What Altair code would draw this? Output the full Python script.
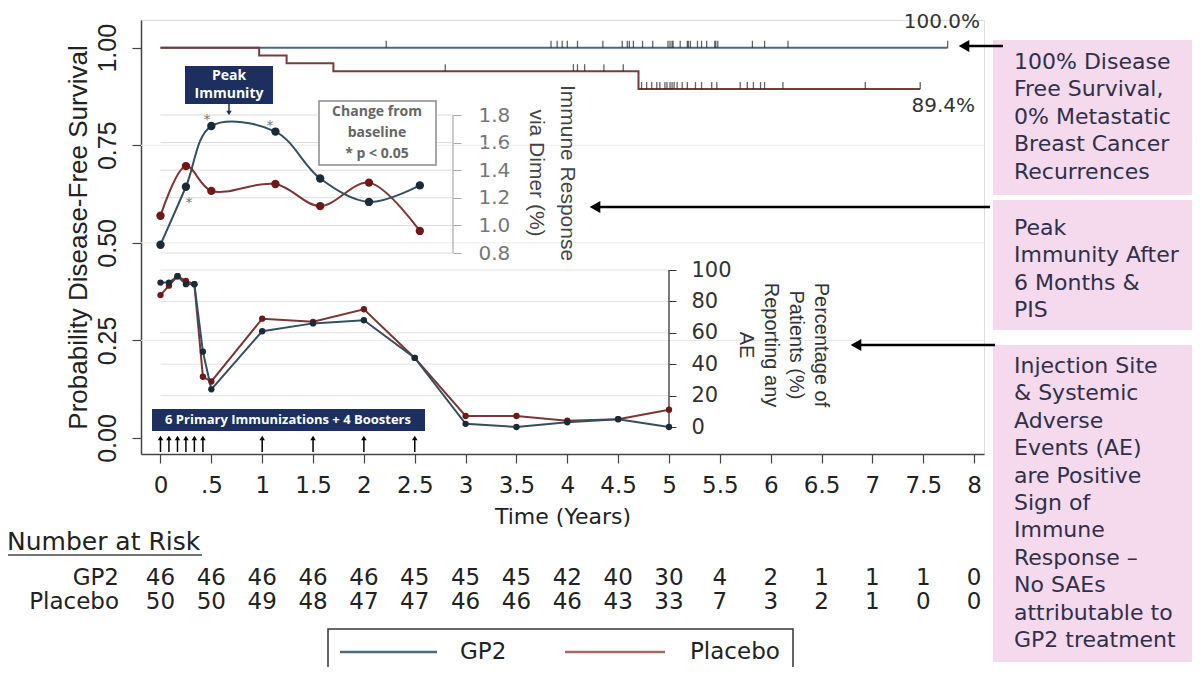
import altair as alt
import pandas as pd

# ---------------- values ----------------
tick_years = [0, 0.5, 1, 1.5, 2, 2.5, 3, 3.5, 4, 4.5, 5, 5.5, 6, 6.5, 7, 7.5, 8]
risk_gp2 = [46, 46, 46, 46, 46, 45, 45, 45, 42, 40, 30, 4, 2, 1, 1, 1, 0]
risk_placebo = [50, 50, 49, 48, 47, 47, 46, 46, 46, 43, 33, 7, 3, 2, 1, 0, 0]

km_gp2_time = [0.0, 7.74]
km_gp2_surv = [1.0, 1.0]
km_placebo_time = [0.0, 0.97, 1.24, 1.70, 4.70, 7.47]
km_placebo_surv = [1.0, 0.98, 0.96, 0.94, 0.894, 0.894]

censor_gp2 = [2.22, 3.84, 3.90, 3.95, 4.00, 4.10, 4.35, 4.54, 4.59, 4.61, 4.65, 4.74,
              4.84, 4.99, 5.01, 5.03, 5.04, 5.11, 5.18, 5.19, 5.21, 5.28, 5.32, 5.37,
              5.45, 5.46, 5.48, 5.82, 5.94, 6.17, 7.74]
censor_placebo = [2.80, 4.06, 4.10, 4.17, 4.36, 4.55, 4.73, 4.78, 4.83, 4.88, 4.91,
                  4.96, 4.98, 5.01, 5.03, 5.05, 5.08, 5.13, 5.18, 5.26, 5.32, 5.42,
                  5.47, 5.70, 5.77, 5.83, 5.90, 5.94, 6.12, 6.93, 7.47]
surv_grid = [0.25, 0.5, 0.75]
surv_ticks = [0, 0.25, 0.5, 0.75, 1.0]

immune_time = [0.0, 0.25, 0.5, 1.13, 1.57, 2.05, 2.55]
immune_gp2 = [0.86, 1.28, 1.72, 1.68, 1.34, 1.17, 1.29]
immune_placebo = [1.07, 1.43, 1.25, 1.30, 1.14, 1.31, 0.96]
immune_ticks = [0.8, 1.0, 1.2, 1.4, 1.6, 1.8]

ae_time = [0, 0.083, 0.167, 0.25, 0.333, 0.417, 0.5, 1, 1.5, 2, 2.5, 3, 3.5, 4, 4.5, 5]
ae_gp2 = [92, 92, 96, 91, 91, 48, 24, 61, 66, 68, 44, 2, 0, 3, 5, 0]
ae_placebo = [84, 90, 96, 93, 91, 32, 29, 69, 67, 75, 44, 7, 7, 4, 5, 11]
ae_ticks = [0, 20, 40, 60, 80, 100]

injection_time = [0, 0.083, 0.167, 0.25, 0.333, 0.417, 1, 1.5, 2, 2.5]

box1_text = ["100% Disease", "Free Survival,", "0% Metastatic", "Breast Cancer", "Recurrences"]
box2_text = ["Peak", "Immunity After", "6 Months &", "PIS"]
box3_text = ["Injection Site", "& Systemic", "Adverse", "Events (AE)", "are Positive",
             "Sign of", "Immune", "Response \u2013", "No SAEs", "attributable to", "GP2 treatment"]

# ---------------- layout ----------------
W, H = 843, 434
OX, OY = 141, 20           # plot origin on the page
X_DOM = [-0.1917, 8.0973]
IMM_AXIS_T = 2.876
AE_AXIS_T = 5.0


def xpix(t):
    return (t - X_DOM[0]) / (X_DOM[1] - X_DOM[0]) * W


def px(x):
    return x - OX


def py(y):
    return y - OY


KM_GP2 = "#4a6a80"
KM_PBO = "#7b3b3b"
L_GP2, P_GP2 = "#34505e", "#1b2a38"
L_PBO, P_PBO = "#7c3636", "#701818"
NAVY = "#1c2f5e"
PINK = "#f5d9ed"
INK = "#222222"

xs = alt.Scale(domain=X_DOM, nice=False, zero=False)
ym = alt.Scale(domain=[-0.041, 1.071], nice=False, zero=False)
yi = alt.Scale(domain=[-0.6565, 2.4884], nice=False, zero=False)
ya = alt.Scale(domain=[-17.197, 259.236], nice=False, zero=False)

x_axis = alt.Axis(values=tick_years, format="~g",
                  labelExpr="datum.value == 0.5 ? '.5' : datum.label",
                  title="Time (Years)", grid=False, domainColor="#444", domainWidth=1.5,
                  tickColor="#444", tickWidth=1.2, tickSize=9, labelFont="DejaVu Sans",
                  labelFontSize=23, labelColor=INK, labelPadding=11, labelFlush=False,
                  labelOverlap=False, titleFont="DejaVu Sans", titleFontSize=22,
                  titleFontWeight="normal", titleColor=INK, titlePadding=9)
ym_axis = alt.Axis(values=surv_ticks, format=".2f", labelAngle=270, labelAlign="center",
                   labelBaseline="bottom", labelFont="Liberation Sans", labelFontSize=25,
                   labelColor=INK, labelPadding=12, tickSize=9, tickColor="#444",
                   tickWidth=1.2, grid=False, domainColor="#444", domainWidth=1.5,
                   title="Probability Disease-Free Survival", titleFont="Liberation Sans",
                   titleFontSize=26, titleFontWeight="normal", titleColor=INK, titlePadding=4)
yi_axis = alt.Axis(orient="right", offset=xpix(IMM_AXIS_T) - W, values=immune_ticks,
                   format=".1f", domain=False, grid=False, tickSize=8, tickColor="#aaaaaa",
                   labelFont="DejaVu Sans", labelFontSize=20, labelColor="#777777",
                   labelPadding=17, title=None)
ya_axis = alt.Axis(orient="right", offset=xpix(AE_AXIS_T) - W, values=ae_ticks,
                   format="d", domain=False, grid=False, tickSize=7, tickColor="#333333",
                   labelFont="DejaVu Sans", labelFontSize=21, labelColor="#333333",
                   labelPadding=15, title=None)

ONE = alt.Data(values=[{"k": 0}])


def X(field="t"):
    return alt.X(f"{field}:Q", scale=xs, axis=x_axis)


def XD(val):
    return alt.X(datum=val, scale=xs, axis=x_axis)


def YM():
    return alt.Y("v:Q", scale=ym, axis=ym_axis)


def YI():
    return alt.Y("v:Q", scale=yi, axis=yi_axis)


def YID(val):
    return alt.Y(datum=val, scale=yi, axis=yi_axis)


def YA():
    return alt.Y("v:Q", scale=ya, axis=ya_axis)


def YAD(val):
    return alt.Y(datum=val, scale=ya, axis=ya_axis)


def step_value(times, vals, t):
    out = vals[0]
    for tt, vv in zip(times, vals):
        if tt <= t:
            out = vv
    return out


# ---------------- Kaplan-Meier panel ----------------
df_km_gp2 = pd.DataFrame({"t": km_gp2_time, "v": km_gp2_surv})
df_km_pbo = pd.DataFrame({"t": km_placebo_time, "v": km_placebo_surv})
df_c_gp2 = pd.DataFrame({"t": censor_gp2,
                         "v": [step_value(km_gp2_time, km_gp2_surv, t) for t in censor_gp2]})
df_c_pbo = pd.DataFrame({"t": censor_placebo,
                         "v": [step_value(km_placebo_time, km_placebo_surv, t) for t in censor_placebo]})

main = alt.layer(
    alt.Chart(pd.DataFrame({"v": surv_grid})).mark_rule(color="#ececec", strokeWidth=1).encode(y=YM()),
    alt.Chart(df_km_gp2).mark_line(interpolate="step-after", color=KM_GP2, strokeWidth=2).encode(x=X(), y=YM()),
    alt.Chart(df_km_pbo).mark_line(interpolate="step-after", color=KM_PBO, strokeWidth=2).encode(x=X(), y=YM()),
    alt.Chart(df_c_gp2).mark_tick(orient="vertical", size=7, thickness=1.3, color=INK, yOffset=-3.5).encode(x=X(), y=YM()),
    alt.Chart(df_c_pbo).mark_tick(orient="vertical", size=7, thickness=1.3, color=INK, yOffset=-3.5).encode(x=X(), y=YM()),
)

# ---------------- immune response inset ----------------
df_imm_gp2 = pd.DataFrame({"t": immune_time, "v": immune_gp2})
df_imm_pbo = pd.DataFrame({"t": immune_time, "v": immune_placebo})
imm = alt.layer(
    alt.Chart(pd.DataFrame({"v": immune_ticks})).mark_rule(color="#dcdcdc", strokeWidth=1).encode(
        y=YI(), x=XD(0), x2=alt.X2(datum=IMM_AXIS_T)),
    alt.Chart(ONE).mark_rule(color="#aaaaaa", strokeWidth=1.2).encode(
        x=XD(IMM_AXIS_T), y=YID(immune_ticks[0]), y2=alt.Y2(datum=immune_ticks[-1])),
    alt.Chart(df_imm_pbo).mark_line(interpolate="catmull-rom", color=L_PBO, strokeWidth=2).encode(x=X(), y=YI()),
    alt.Chart(df_imm_gp2).mark_line(interpolate="catmull-rom", color=L_GP2, strokeWidth=2).encode(x=X(), y=YI()),
    alt.Chart(df_imm_pbo).mark_circle(color=P_PBO, size=70, opacity=1).encode(x=X(), y=YI()),
    alt.Chart(df_imm_gp2).mark_circle(color=P_GP2, size=70, opacity=1).encode(x=X(), y=YI()),
)

# ---------------- adverse events inset ----------------
df_ae_gp2 = pd.DataFrame({"t": ae_time, "v": ae_gp2})
df_ae_pbo = pd.DataFrame({"t": ae_time, "v": ae_placebo})
ae = alt.layer(
    alt.Chart(pd.DataFrame({"v": ae_ticks[1:]})).mark_rule(color="#e2e2e2", strokeWidth=1).encode(
        y=YA(), x=XD(0), x2=alt.X2(datum=AE_AXIS_T)),
    alt.Chart(ONE).mark_rule(color="#333333", strokeWidth=1.3).encode(
        x=XD(AE_AXIS_T), y=YAD(ae_ticks[0]), y2=alt.Y2(datum=ae_ticks[-1])),
    alt.Chart(df_ae_pbo).mark_line(color=L_PBO, strokeWidth=2).encode(x=X(), y=YA()),
    alt.Chart(df_ae_gp2).mark_line(color=L_GP2, strokeWidth=2).encode(x=X(), y=YA()),
    alt.Chart(df_ae_pbo).mark_circle(color=P_PBO, size=40, opacity=1).encode(x=X(), y=YA()),
    alt.Chart(df_ae_gp2).mark_circle(color=P_GP2, size=40, opacity=1).encode(x=X(), y=YA()),
)


# ---------------- annotations ----------------
def text_at(s, x, y, **mk):
    return alt.Chart(ONE).mark_text(text=s, **mk).encode(x=alt.value(x), y=alt.value(y))


def rect_at(x1, y1, x2, y2, **mk):
    return alt.Chart(ONE).mark_rect(**mk).encode(
        x=alt.value(x1), x2=alt.value(x2), y=alt.value(y1), y2=alt.value(y2))


def hrule(x1, x2, y, **mk):
    return alt.Chart(ONE).mark_rule(**mk).encode(x=alt.value(x1), x2=alt.value(x2), y=alt.value(y))


def vrule(x, y1, y2, **mk):
    return alt.Chart(ONE).mark_rule(**mk).encode(x=alt.value(x), y=alt.value(y1), y2=alt.value(y2))


def head(x, y, shape, size, color="black"):
    return alt.Chart(ONE).mark_point(shape=shape, filled=True, size=size, color=color,
                                     opacity=1).encode(x=alt.value(x), y=alt.value(y))


annots = []
# percent labels
annots.append(text_at("100.0%", px(980), py(22), align="right", baseline="middle",
                      font="DejaVu Sans", fontSize=20, color="#333333"))
annots.append(text_at("89.4%", px(975), py(106), align="right", baseline="middle",
                      font="DejaVu Sans", fontSize=20, color="#333333"))

# pink commentary boxes (text anchored at the first line)
for (y1, y2, first, lines) in [(40, 195, 62, box1_text), (200, 330, 228, box2_text),
                               (345, 662, 366, box3_text)]:
    annots.append(rect_at(px(993), py(y1), px(1205), py(y2), fill=PINK))
    annots.append(text_at(lines, px(1014), py(first), align="left", baseline="middle",
                          font="DejaVu Sans", fontSize=22, lineHeight=27.4, color="#30304a"))

# black arrows
for (y, x_tip, x_tail) in [(46, 958, 1003), (207, 589, 990), (345, 850, 995)]:
    annots.append(hrule(px(x_tip + 6), px(x_tail), py(y), color="black", strokeWidth=2.5))
    annots.append(head(px(x_tip + 6), py(y), "triangle-left", 150))

# Peak Immunity box
annots.append(rect_at(px(185), py(66), px(273), py(104), fill=NAVY))
annots.append(text_at("Peak", px(229), py(76), align="center", baseline="middle",
                      font="Open Sans", fontWeight="bold", fontSize=14, color="white"))
annots.append(text_at("Immunity", px(229), py(94), align="center", baseline="middle",
                      font="Open Sans", fontWeight="bold", fontSize=14, color="white"))
annots.append(vrule(px(229), py(104), py(112), color=NAVY, strokeWidth=1.5))
annots.append(head(px(229), py(113), "triangle-down", 30, NAVY))

# Change from baseline box
annots.append(rect_at(px(319), py(101), px(436), py(165), fill="white", stroke="#8a8a8a", strokeWidth=1.5))
annots.append(text_at(["Change from", "baseline", "* p < 0.05"], px(377), py(112), align="center",
                      baseline="middle", font="Open Sans", fontWeight="bold", fontSize=14,
                      lineHeight=21, color="#666666"))

# significance asterisks
for (x, y) in [(207, 120), (270, 126), (189, 203)]:
    annots.append(text_at("*", px(x), py(y), align="center", baseline="middle",
                          font="DejaVu Sans", fontSize=14, color="#777777"))

# inset axis titles (rotated, first line on the right)
annots.append(text_at(["Immune Response", "via Dimer (%)"], px(567), py(173), angle=90,
                      align="center", baseline="middle", font="Liberation Sans", fontSize=21,
                      lineHeight=31, color="#444444"))
annots.append(text_at(["Percentage of", "Patients (%)", "Reporting any", "AE"], px(821), py(345),
                      angle=90, align="center", baseline="middle", font="Liberation Sans",
                      fontSize=20, lineHeight=25, color="#333333"))

# immunization schedule
annots.append(rect_at(px(152), py(409), px(425), py(431), fill=NAVY))
annots.append(text_at("6 Primary Immunizations + 4 Boosters", px(288), py(420), align="center",
                      baseline="middle", font="Open Sans", fontWeight="bold", fontSize=13,
                      color="white"))
df_inj = pd.DataFrame({"t": injection_time})
annots.append(alt.Chart(df_inj).mark_rule(color="black", strokeWidth=1.5).encode(
    x=X(), y=alt.value(py(452)), y2=alt.value(py(439))))
annots.append(alt.Chart(df_inj).mark_point(shape="triangle-up", filled=True, size=30,
                                           color="black", opacity=1).encode(
    x=X(), y=alt.value(py(438))))

# number at risk table
annots.append(text_at("Number at Risk", px(7), py(542), align="left", baseline="middle",
                      font="DejaVu Sans", fontSize=25, color=INK))
annots.append(hrule(px(7), px(202), py(555), color="#444444", strokeWidth=1.5))
for (label, counts, yrow) in [("GP2", risk_gp2, 578), ("Placebo", risk_placebo, 602)]:
    annots.append(text_at(label, px(119), py(yrow), align="right", baseline="middle",
                          font="DejaVu Sans", fontSize=23, color=INK))
    df_r = pd.DataFrame({"t": tick_years, "n": counts})
    annots.append(alt.Chart(df_r).mark_text(align="center", baseline="middle", font="DejaVu Sans",
                                            fontSize=23, color=INK).encode(
        x=X(), y=alt.value(py(yrow)), text="n:Q"))

# legend
annots.append(rect_at(px(328), py(629), px(793), py(720), fill="white", stroke="#333333", strokeWidth=1.5))
annots.append(hrule(px(340), px(437), py(652), color=KM_GP2, strokeWidth=2.5))
annots.append(text_at("GP2", px(460), py(652), align="left", baseline="middle",
                      font="DejaVu Sans", fontSize=23, color=INK))
annots.append(hrule(px(565), px(665), py(652), color="#a46a6a", strokeWidth=2.5))
annots.append(text_at("Placebo", px(690), py(652), align="left", baseline="middle",
                      font="DejaVu Sans", fontSize=23, color=INK))

chart = alt.layer(main, imm, ae, *annots).resolve_scale(y="independent").properties(
    width=W, height=H,
    autosize=alt.AutoSizeParams(type="none"),
    padding={"left": OX - 8, "top": OY - 8, "right": 1184 - (OX - 8) - W, "bottom": 213},
).configure_view(stroke=None).configure(background="white")

chart.save("out.html", embed_options={"renderer": "svg", "actions": False})
